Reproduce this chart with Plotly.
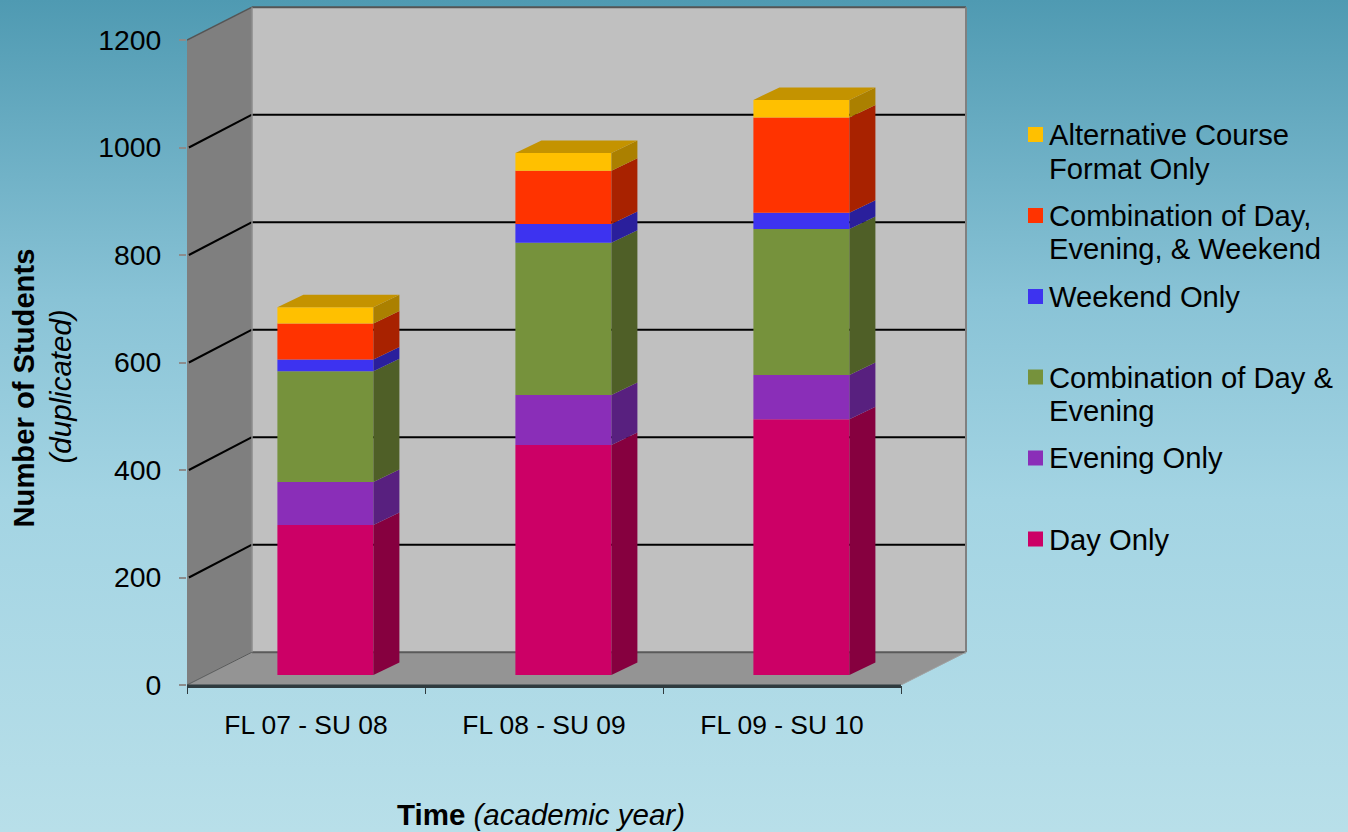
import plotly.graph_objects as go

# ---- data ----
CATEGORIES = ["FL 07 - SU 08", "FL 08 - SU 09", "FL 09 - SU 10"]
SERIES_NAMES = ["Day Only", "Evening Only", "Combination of Day & Evening", "Weekend Only",
                "Combination of Day, Evening, & Weekend", "Alternative Course Format Only"]
DAY_ONLY = [279, 428, 476]
EVENING_ONLY = [80, 93, 82]
DAY_EVENING = [206, 283, 272]
WEEKEND_ONLY = [22, 35, 30]
DAY_EVENING_WEEKEND = [67, 99, 177]
ALTERNATIVE = [30, 33, 33]
SERIES = [DAY_ONLY, EVENING_ONLY, DAY_EVENING, WEEKEND_ONLY, DAY_EVENING_WEEKEND, ALTERNATIVE]
Y_TICKS = [0, 200, 400, 600, 800, 1000, 1200]

FRONT = ["#CC0066", "#8A2EB8", "#76923C", "#3D33F0", "#FF3300", "#FFC000"]
SIDE = ["#86003F", "#58207F", "#4F5F27", "#2A1F9C", "#A82200", "#AB8000"]
TOP = "#C49300"
LEGEND_ROWS = [
    (["Alternative Course", "Format Only"], FRONT[5], [135, 169], 134.5),
    (["Combination of Day,", "Evening, & Weekend"], FRONT[4], [216, 249], 215.5),
    (["Weekend Only"], FRONT[3], [297], 296.5),
    (["Combination of Day &", "Evening"], FRONT[2], [377.5, 411], 377),
    (["Evening Only"], FRONT[1], [458.5], 458),
    (["Day Only"], FRONT[0], [539.5], 539),
]

# ---- geometry (page pixels) ----
W, H = 1348, 832
PX_X0, PX_X1, PX_Y0, PX_Ytop = 187, 968, 685, 5
PX_PER_CAT = 238.0
PX_PER_VAL = 0.5375
X_MAX = (PX_X1 - PX_X0) / PX_PER_CAT
Y_MAX = (PX_Y0 - PX_Ytop) / PX_PER_VAL
DEPTH_X = 65 / PX_PER_CAT
DEPTH_Y = 32.8 / PX_PER_VAL
BAR_SHIFT_X = 19.4 / PX_PER_CAT
BAR_SHIFT_Y = 10 / PX_PER_VAL
BAR_DEPTH_X = 26 / PX_PER_CAT
BAR_DEPTH_Y = 12.5 / PX_PER_VAL
BAR_WIDTH = 96 / PX_PER_CAT
FONT = "Liberation Sans"

fig = go.Figure()

# background gradient on its own full-page subplot
fig.add_trace(go.Scatter(
    x=[0, 1, 1, 0, 0], y=[0, 0, 1, 1, 0], mode="lines", fill="toself", line=dict(width=0),
    fillgradient=dict(type="vertical", colorscale=[
        [0.0, "#B8DFE9"], [0.4, "#A3D4E3"], [0.64, "#89C3D6"], [1.0, "#4F9AB2"]]),
    hoverinfo="skip", showlegend=False, xaxis="x", yaxis="y"))


def path(points):
    return "M" + "L".join(f"{a},{b}" for a, b in points) + "Z"


shapes = []


def poly(points, fill):
    shapes.append(dict(type="path", path=path(points), xref="x2", yref="y2", fillcolor=fill,
                       line=dict(width=0), layer="below"))


def seg(p, q, color, width):
    shapes.append(dict(type="line", x0=p[0], y0=p[1], x1=q[0], y1=q[1], xref="x2", yref="y2",
                       line=dict(color=color, width=width), layer="below"))


top = Y_TICKS[-1]
n = len(CATEGORIES)
poly([(DEPTH_X, DEPTH_Y), (n + DEPTH_X, DEPTH_Y), (n + DEPTH_X, top + DEPTH_Y), (DEPTH_X, top + DEPTH_Y)], "#C0C0C0")
poly([(0, 0), (DEPTH_X, DEPTH_Y), (DEPTH_X, top + DEPTH_Y), (0, top)], "#7F7F7F")
poly([(0, 0), (n, 0), (n + DEPTH_X, DEPTH_Y), (DEPTH_X, DEPTH_Y)], "#949494")
for t in Y_TICKS[1:-1]:
    seg((0.008, t), (DEPTH_X, t + DEPTH_Y), "#000000", 2)
    seg((DEPTH_X, t + DEPTH_Y), (n + DEPTH_X, t + DEPTH_Y), "#000000", 2)
seg((0, top), (DEPTH_X, top + DEPTH_Y), "#555555", 1.5)
seg((DEPTH_X, top + DEPTH_Y), (n + DEPTH_X, top + DEPTH_Y), "#555555", 2)
seg((DEPTH_X, DEPTH_Y), (n + DEPTH_X, DEPTH_Y), "#5A5A5A", 2)
seg((0, 0), (DEPTH_X, DEPTH_Y), "#5A5A5A", 1)
seg((DEPTH_X, DEPTH_Y), (DEPTH_X, top + DEPTH_Y), "#8C8C8C", 1.5)
seg((n + DEPTH_X, DEPTH_Y), (n + DEPTH_X, top + DEPTH_Y), "#808080", 2)
seg((n, 0), (n + DEPTH_X, DEPTH_Y), "#A0A0A0", 1)

# thick front edge of the floor, referenced to the page vertically so it is not clipped at the axis
shapes.append(dict(type="line", xref="x2", yref="paper", x0=0, x1=n, y0=1 - 686.3 / H, y1=1 - 686.3 / H,
                   line=dict(color="#2F3B3F", width=3.5), layer="above"))

# front faces, side faces and tops of the stacks
centers = [i + 0.5 + BAR_SHIFT_X for i in range(n)]
running = [BAR_SHIFT_Y] * n
for name, values, front, side in zip(SERIES_NAMES, SERIES, FRONT, SIDE):
    fig.add_trace(go.Bar(x=centers, y=values, base=list(running), width=BAR_WIDTH, name=name,
                         marker=dict(color=front, line=dict(width=0)), xaxis="x2", yaxis="y2",
                         showlegend=False))
    sx, sy = [], []
    for c, b, v in zip(centers, running, values):
        right = c + BAR_WIDTH / 2
        sx += [right, right + BAR_DEPTH_X, right + BAR_DEPTH_X, right, right, None]
        sy += [b, b + BAR_DEPTH_Y, b + v + BAR_DEPTH_Y, b + v, b, None]
    fig.add_trace(go.Scatter(x=sx, y=sy, mode="lines", fill="toself", fillcolor=side, line=dict(width=0),
                             hoverinfo="skip", showlegend=False, xaxis="x2", yaxis="y2"))
    running = [r + v for r, v in zip(running, values)]

tx, ty = [], []
for c, t in zip(centers, running):
    l, r = c - BAR_WIDTH / 2, c + BAR_WIDTH / 2
    tx += [l, r, r + BAR_DEPTH_X, l + BAR_DEPTH_X, l, None]
    ty += [t, t, t + BAR_DEPTH_Y, t + BAR_DEPTH_Y, t, None]
fig.add_trace(go.Scatter(x=tx, y=ty, mode="lines", fill="toself", fillcolor=TOP, line=dict(width=0),
                         hoverinfo="skip", showlegend=False, xaxis="x2", yaxis="y2"))

# legend, axis titles
annotations = []


def label(text, px, py, size, anchor="left", angle=0):
    annotations.append(dict(text=text, x=px / W, y=1 - py / H, xref="paper", yref="paper", showarrow=False,
                            xanchor=anchor, yanchor="middle", textangle=angle,
                            font=dict(family=FONT, size=size, color="#000000")))


for lines, color, ys, sym in LEGEND_ROWS:
    for line, y in zip(lines, ys):
        label(line, 1047, y, 29.2)
    shapes.append(dict(type="rect", xref="paper", yref="paper", x0=1028 / W, x1=1043 / W,
                       y0=1 - (sym + 7.5) / H, y1=1 - (sym - 7.5) / H, fillcolor=color,
                       line=dict(width=0), layer="above"))

label("<b>Number of Students</b>", 23, 388.5, 29.2, "center", -90)
label("<i>(duplicated)</i>", 59.5, 387, 29.5, "center", -90)
label("<b>Time</b> <i>(academic year)</i>", 541, 814, 29.5, "center")

fig.update_layout(
    width=W, height=H, margin=dict(l=0, r=0, t=0, b=0, pad=0), autosize=False,
    paper_bgcolor="#A3D4E3", plot_bgcolor="rgba(0,0,0,0)", showlegend=False, barmode="overlay",
    font=dict(family=FONT, color="#000000"), shapes=shapes, annotations=annotations,
    xaxis=dict(domain=[0, 1], range=[0, 1], visible=False, fixedrange=True, automargin=False),
    yaxis=dict(domain=[0, 1], range=[0, 1], visible=False, fixedrange=True, automargin=False),
    xaxis2=dict(domain=[PX_X0 / W, PX_X1 / W], range=[0, X_MAX], anchor="y2", showgrid=False, zeroline=False,
                automargin=False, showline=False, tickmode="array", tickvals=[i + 0.5 for i in range(n)],
                ticktext=CATEGORIES, ticks="", ticklabelstandoff=22, tickfont=dict(size=26.4, family=FONT),
                minor=dict(tickmode="array", tickvals=list(range(n + 1)), ticks="outside", ticklen=8,
                           tickwidth=1, tickcolor="#2F3B3F", showgrid=False)),
    yaxis2=dict(domain=[1 - PX_Y0 / H, 1 - PX_Ytop / H], range=[0, Y_MAX], anchor="x2", showgrid=False,
                automargin=False, zeroline=False, showline=False, tickmode="array", tickvals=Y_TICKS,
                ticks="outside", ticklen=7, tickwidth=1.5, tickcolor="#8C8C8C", ticklabelstandoff=12,
                tickfont=dict(size=28.4, family=FONT)),
)

fig.write_html("out.html", config=dict(displayModeBar=False),
               post_script="document.body.style.margin='0';")
